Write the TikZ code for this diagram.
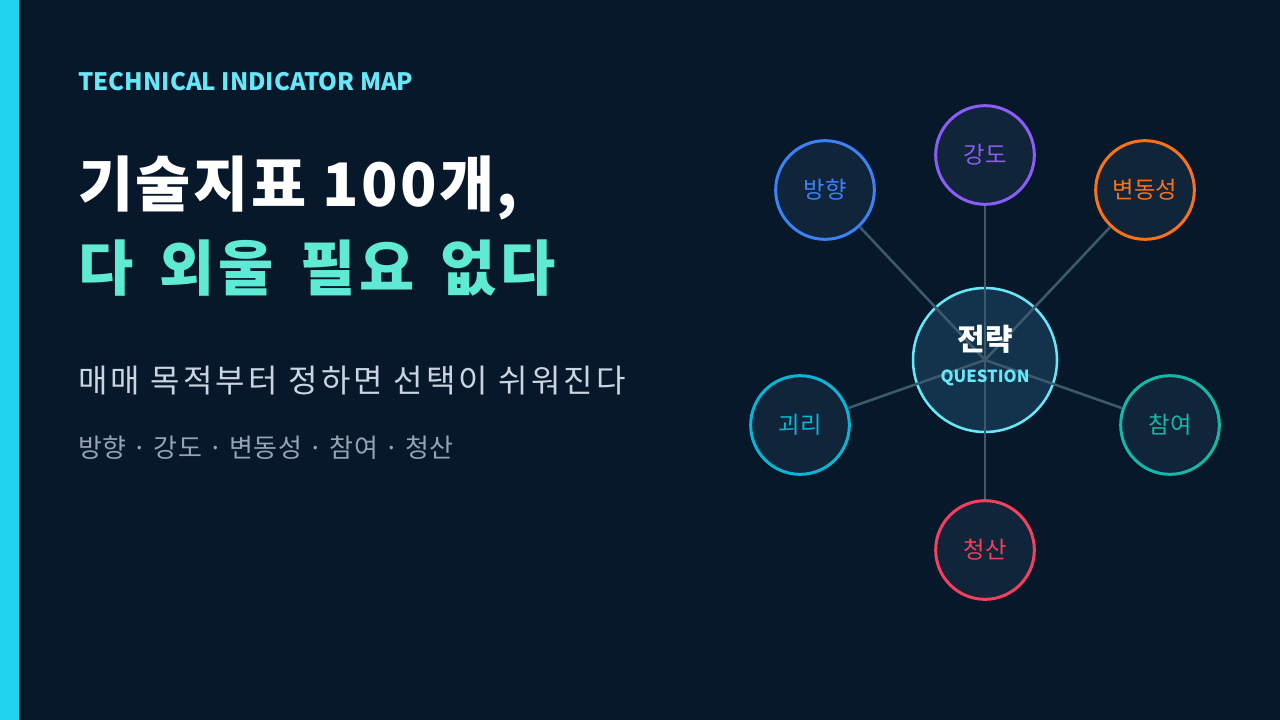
\documentclass[tikz,border=0pt]{standalone}
\usepackage{fontspec}
\setmainfont{Noto Sans CJK KR}
\usetikzlibrary{positioning}
\definecolor{nacht}{HTML}{07182A}
\definecolor{balken}{HTML}{22D3EE}
\definecolor{kicker}{HTML}{67E8F9}
\definecolor{mint}{HTML}{5EEAD4}
\definecolor{grau}{HTML}{CBD5E1}
\definecolor{schiefer}{HTML}{94A3B8}
\definecolor{speiche}{HTML}{3D5A6D}
\definecolor{blattgrund}{HTML}{10243A}
\definecolor{nabengrund}{HTML}{12334B}
\definecolor{blau}{HTML}{3B82F6}
\definecolor{lila}{HTML}{8B5CF6}
\definecolor{orange}{HTML}{F97316}
\definecolor{cyan}{HTML}{06B6D4}
\definecolor{petrol}{HTML}{14B8A6}
\definecolor{rosa}{HTML}{F43F5E}
\newcommand{\wortluecke}{\hspace{19.5pt}}
\tikzset{
  leaf/.style={circle, draw=#1, line width=2.25pt, fill=blattgrund, minimum size=74pt,
               inner sep=0pt, text=#1, font=\fontsize{17.5}{19}\selectfont},
  hub/.style={circle, draw=kicker, line width=1.9pt, fill=nabengrund, minimum size=108pt,
              inner sep=0pt},
  spoke/.style={draw=speiche, line width=1.9pt},
  textline/.style={anchor=west, inner sep=0pt}
}
\begin{document}
\begin{tikzpicture}[x=0.75pt, y=-0.75pt]
      % Hintergrund
      \fill[nacht] (0,0) rectangle (1280,720);
      \fill[balken] (0,0) rectangle (19,720);

      % Texte links
      \node[textline, text=kicker, font=\bfseries\fontsize{18}{20}\selectfont] (kicker) at (78,82)
        {TECHNICAL INDICATOR MAP};
      \node[textline, text=white, font=\bfseries\fontsize{45}{50}\selectfont\addfontfeatures{LetterSpace=4}]
        (titel) at (78,188) {기술지표 100개,};
      \node[textline, text=mint, font=\bfseries\fontsize{45}{50}\selectfont\addfontfeatures{LetterSpace=7}]
        (titelzwei) at (78,268) {다\wortluecke 외울\wortluecke 필요\wortluecke 없다};
      \node[textline, text=grau, font=\fontsize{24}{26}\selectfont\addfontfeatures{LetterSpace=10}]
        (unter) at (78,381) {매매 목적부터 정하면 선택이 쉬워진다};
      \node[textline, text=schiefer, font=\fontsize{19.5}{22}\selectfont\addfontfeatures{LetterSpace=2}]
        (liste) at (78,448) {방향 · 강도 · 변동성 · 참여 · 청산};

      % Karte
      \node[hub] (nabe) at (985,360) {};
      \node[leaf=blau] (richtung) at (825,190) {방향};
      \node[leaf=lila] (staerke) at (985,155) {강도};
      \node[leaf=orange] (vola) at (1145,190) {변동성};
      \node[leaf=cyan] (abstand) at (800,425) {괴리};
      \node[leaf=petrol] (beteiligung) at (1170,425) {참여};
      \node[leaf=rosa] (ausstieg) at (985,550) {청산};

      \draw[spoke] (nabe.center) -- (richtung);
      \draw[spoke] (nabe.center) -- (staerke);
      \draw[spoke] (nabe.center) -- (vola);
      \draw[spoke] (nabe.center) -- (abstand);
      \draw[spoke] (nabe.center) -- (beteiligung);
      \draw[spoke] (nabe.center) -- (ausstieg);

      \node[text=white, font=\bfseries\fontsize{22.5}{24}\selectfont] (strategie) at (985,339) {전략};
      \node[text=kicker, font=\bfseries\fontsize{12.5}{15}\selectfont] (frage) at (985,378) {QUESTION};
    \end{tikzpicture}
\end{document}
